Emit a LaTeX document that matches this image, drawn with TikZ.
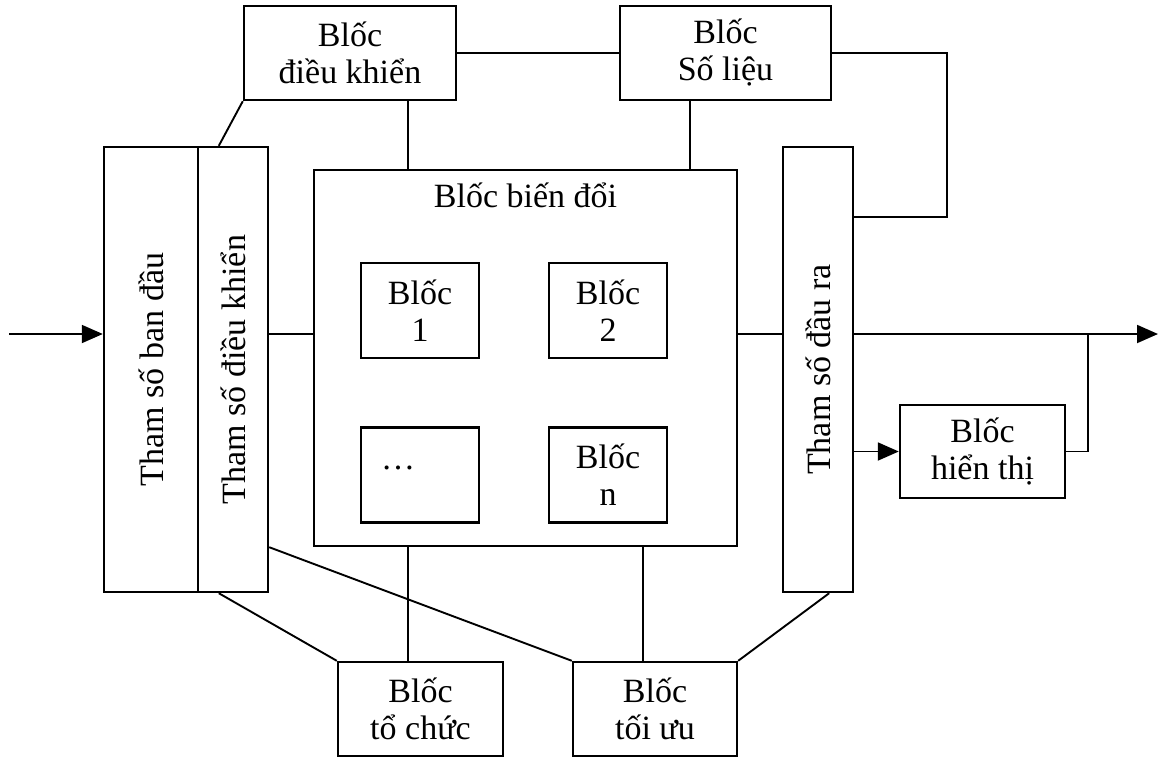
\documentclass[tikz,border=0pt]{standalone}
\usepackage{fontspec}
\setmainfont{Liberation Serif}
\usetikzlibrary{arrows.meta,positioning,calc}
\newcommand{\blkfont}{\fontsize{34}{37}\selectfont}

\begin{document}
\begin{tikzpicture}[x=1pt,y=-1pt,
  blk/.style={draw,line width=2.4pt,inner sep=0pt,align=center,font=\blkfont},
  sub/.style={blk,minimum width=118pt,minimum height=95pt},
  link/.style={line width=1.9pt},
  flow/.style={link,-{Triangle[length=21pt,width=18pt]}}
]
\useasboundingbox[fill=white] (0,0) rectangle (1159,758);
\node[blk,minimum width=212pt,minimum height=94pt] (ctrl) at (350,53) {Blốc\\điều khiển};
\node[blk,minimum width=211pt,minimum height=94pt] (data) at (725.5,53) {Blốc\\Số liệu};
\node[blk,minimum width=94pt,minimum height=445pt] (pin) at (151,369.5) {\rotatebox{90}{Tham số ban đầu}};
\node[blk,minimum width=70pt,minimum height=445pt] (pctl) at (233,369.5) {\rotatebox{90}{Tham số điều khiển}};
\node[blk,minimum width=70pt,minimum height=445pt] (pout) at (818,369.5) {\rotatebox{90}{Tham số đầu ra}};
\node[blk,minimum width=423pt,minimum height=376pt] (conv) at (525.5,358) {};
\node[font=\blkfont,anchor=base] (convtitle) at ([yshift=-39pt]conv.north) {Blốc biến đổi};
\node[sub] (b1) at (420,310.5) {Blốc\\1};
\node[sub] (b2) at (608,310.5) {Blốc\\2};
\node[sub] (bdots) at (420,475) {};
\node[font=\blkfont,anchor=base] (dots) at ([xshift=-22pt,yshift=6pt]bdots.center) {…};
\node[sub] (bn) at (608,475) {Blốc\\n};
\node[blk,minimum width=165pt,minimum height=93pt] (disp) at (982.5,451.5) {Blốc\\hiển thị};
\node[blk,minimum width=165pt,minimum height=94pt] (org) at (420.5,709) {Blốc\\tổ chức};
\node[blk,minimum width=164pt,minimum height=94pt] (opt) at (655,709) {Blốc\\tối ưu};
\coordinate (in) at (9,334);
\coordinate (out) at (1158,334);
\coordinate (fb) at (947,217);
\coordinate (tap) at (1088,334);
\coordinate (xl) at (408,0);
\coordinate (xr) at (690,0);
\coordinate (xo) at (643,0);
\draw[link] (ctrl.east) -- (data.west);
\draw[link] (data.east) -| (fb) -- (fb -| pout.east);
\draw[link] (ctrl.south west) -- ([xshift=22pt]pctl.north west);
\draw[link] (ctrl.south -| xl) -- (conv.north -| xl);
\draw[link] (data.south -| xr) -- (conv.north -| xr);
\draw[flow] (in) -- (in -| pin.west);
\draw[link] (in -| pctl.east) -- (in -| conv.west);
\draw[link] (in -| conv.east) -- (in -| pout.west);
\draw[flow] (in -| pout.east) -- (out);
\draw[flow] (disp.west -| pout.east) -- (disp.west);
\draw[link] (disp.east) -| (tap);
\draw[link] ([xshift=22pt]pctl.south west) -- (org.north west);
\draw[link] (conv.south -| xl) -- (org.north -| xl);
\draw[link] (pctl.east |- conv.south) -- (opt.north west);
\draw[link] (conv.south -| xo) -- (opt.north -| xo);
\draw[link] ([xshift=-25pt]pout.south east) -- (opt.north east);
\end{tikzpicture}
\end{document}
